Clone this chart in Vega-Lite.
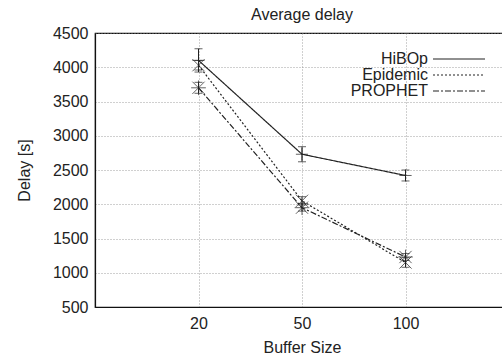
{
  "$schema": "https://vega.github.io/schema/vega-lite/v6.json",
  "width": 414,
  "height": 274,
  "autosize": {"type": "none"},
  "padding": {"left": 95, "top": 33, "right": 0, "bottom": 54},
  "background": "white",
  "title": {"text": "Average delay", "font": "Liberation Sans", "fontSize": 16, "fontWeight": "normal", "color": "#222", "baseline": "alphabetic", "offset": 10, "dy": 21},
  "config": {
    "view": {"stroke": "#111", "strokeWidth": 1.2},
    "axis": {
      "labelFont": "Liberation Sans", "labelFontSize": 16, "labelColor": "#222",
      "titleFont": "Liberation Sans", "titleFontSize": 16, "titleFontWeight": "normal", "titleColor": "#222",
      "gridColor": "#888", "gridDash": [1, 2], "gridWidth": 0.8, "gridOpacity": 1,
      "domainColor": "#111", "domainWidth": 1.2, "ticks": false
    }
  },
  "data": {
    "values": [
      {"series": "HiBOp", "x": 1, "y": 4100, "lo": 3930, "hi": 4270},
      {"series": "HiBOp", "x": 2, "y": 2730, "lo": 2620, "hi": 2840},
      {"series": "HiBOp", "x": 3, "y": 2420, "lo": 2340, "hi": 2500},
      {"series": "Epidemic", "x": 1, "y": 4030, "lo": 3960, "hi": 4100},
      {"series": "Epidemic", "x": 2, "y": 2050, "lo": 1990, "hi": 2110},
      {"series": "Epidemic", "x": 3, "y": 1150, "lo": 1080, "hi": 1220},
      {"series": "PROPHET", "x": 1, "y": 3700, "lo": 3620, "hi": 3780},
      {"series": "PROPHET", "x": 2, "y": 1950, "lo": 1900, "hi": 2010},
      {"series": "PROPHET", "x": 3, "y": 1230, "lo": 1180, "hi": 1280}
    ]
  },
  "encoding": {
    "x": {"field": "x", "type": "quantitative", "scale": {"domain": [0, 4], "nice": false, "zero": false},
      "axis": {"title": "Buffer Size", "values": [1, 2, 3], "labelExpr": "datum.value == 1 ? '20' : datum.value == 2 ? '50' : '100'", "labelPadding": 8, "titlePadding": 8}},
    "y": {"field": "y", "type": "quantitative", "scale": {"domain": [500, 4500], "nice": false, "zero": false},
      "axis": {"title": "Delay [s]", "format": "d", "values": [500, 1000, 1500, 2000, 2500, 3000, 3500, 4000, 4500], "labelPadding": 7, "titlePadding": 20}}
  },
  "resolve": {"legend": {"shape": "independent", "strokeDash": "independent"}},
  "layer": [
    {
      "mark": {"type": "line", "color": "#222", "strokeWidth": 1.2},
      "encoding": {
        "strokeDash": {"field": "series", "type": "nominal",
          "scale": {"domain": ["HiBOp", "Epidemic", "PROPHET"], "range": [[1, 0], [2, 2], [6, 2, 2, 2]]},
          "legend": {"title": null, "orient": "none", "legendX": 356, "legendY": 18, "symbolType": "M-4,0H4", "symbolSize": 169, "symbolStrokeWidth": 1.2, "symbolStrokeColor": "#222", "symbolFillColor": "transparent", "labelAlign": "right", "labelOffset": -39, "labelFont": "Liberation Sans", "labelFontSize": 16, "labelColor": "#222", "rowPadding": 0, "padding": 0}}
      }
    },
    {
      "mark": {"type": "rule", "color": "#222", "strokeWidth": 1},
      "encoding": {"y": {"field": "lo", "type": "quantitative"}, "y2": {"field": "hi"}}
    },
    {
      "mark": {"type": "tick", "color": "#222", "thickness": 1, "size": 8, "orient": "horizontal"},
      "encoding": {"y": {"field": "lo", "type": "quantitative"}}
    },
    {
      "mark": {"type": "tick", "color": "#222", "thickness": 1, "size": 8, "orient": "horizontal"},
      "encoding": {"y": {"field": "hi", "type": "quantitative"}}
    },
    {
      "mark": {"type": "point", "filled": false, "stroke": "#222", "strokeWidth": 1, "size": 150},
      "encoding": {
        "shape": {"field": "series", "type": "nominal",
          "scale": {"domain": ["HiBOp", "Epidemic", "PROPHET"], "range": ["M-1,0H1M0,-1V1", "M-1,-1L1,1M-1,1L1,-1", "M-1,-1L1,1M-1,1L1,-1M-1.2,0H1.2M0,-1.2V1.2"]},
          "legend": null}
      }
    }
  ]
}
